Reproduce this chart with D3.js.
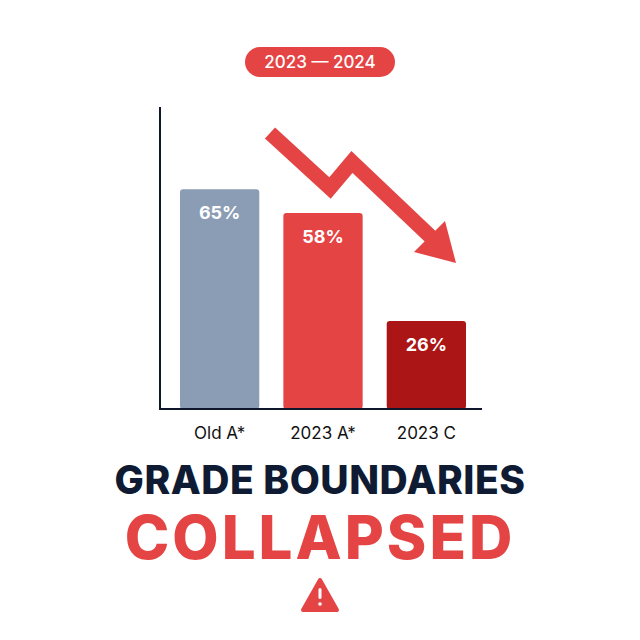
<!DOCTYPE html>
<html><head><meta charset="utf-8">
<script src="https://cdn.jsdelivr.net/npm/d3@7"></script>
<style>body{margin:0;background:#fff}</style></head>
<body><svg id="chart" width="640" height="640"></svg>
<script>
const categories = ['Old A*', '2023 A*', '2023 C'];
const values = [65, 58, 26];
const colors = ['#8a9db5', '#e54444', '#ab1515'];

const svg = d3.select('#chart');
const font = 'Inter, "Noto Sans", sans-serif';

// badge
svg.append('rect').attr('x', 245).attr('y', 47).attr('width', 150).attr('height', 30)
    .attr('rx', 15).attr('fill', '#e54444');
svg.append('text').attr('x', 320).attr('y', 68).attr('text-anchor', 'middle')
    .attr('fill', '#fff').attr('font-family', font).attr('font-size', 17).attr('font-weight', 500)
    .text('2023 — 2024');

const x = d3.scaleBand().domain(categories).range([180, 466]).paddingInner(0.233).paddingOuter(0);
const y = d3.scaleLinear().domain([0, 100]).range([409, 71]);

// bars
svg.selectAll('.bar').data(categories).enter().append('rect')
    .attr('x', d => x(d)).attr('width', x.bandwidth())
    .attr('y', (d, i) => y(values[i])).attr('height', (d, i) => y(0) - y(values[i]))
    .attr('rx', 3).attr('fill', (d, i) => colors[i]);

svg.selectAll('.val').data(categories).enter().append('text')
    .attr('x', d => x(d) + x.bandwidth() / 2).attr('y', (d, i) => y(values[i]) + 30)
    .attr('text-anchor', 'middle').attr('fill', '#fff').attr('font-family', font)
    .attr('font-size', 18).attr('font-weight', 700).text((d, i) => values[i] + '%');

// axes lines
svg.append('line').attr('x1', 160).attr('x2', 160).attr('y1', 107).attr('y2', 409)
    .attr('stroke', '#0f172a').attr('stroke-width', 2);
svg.append('line').attr('x1', 159).attr('x2', 482).attr('y1', 409).attr('y2', 409)
    .attr('stroke', '#0f172a').attr('stroke-width', 2);

svg.selectAll('.cat').data(categories).enter().append('text')
    .attr('x', d => x(d) + x.bandwidth() / 2).attr('y', 439)
    .attr('text-anchor', 'middle').attr('fill', '#111').attr('font-family', font)
    .attr('font-size', 17).text(d => d);

// trend arrow
svg.append('path').attr('d', 'M270,133 L330,188 L352,162 L432,238')
    .attr('fill', 'none').attr('stroke', '#e54444').attr('stroke-width', 15).attr('stroke-linejoin', 'miter');
svg.append('path').attr('d', 'M414,252 L456,263 L445,221 Z').attr('fill', '#e54444');

// titles
svg.append('text').attr('x', 320).attr('y', 494).attr('text-anchor', 'middle')
    .attr('fill', '#0f1a33').attr('font-family', font).attr('font-size', 39).attr('font-weight', 800)
    .attr('letter-spacing', 0.5).text('GRADE BOUNDARIES');
svg.append('text').attr('x', 320).attr('y', 559).attr('text-anchor', 'middle')
    .attr('fill', '#e54444').attr('font-family', font).attr('font-size', 60).attr('font-weight', 800)
    .attr('letter-spacing', 3).text('COLLAPSED');

// warning icon
svg.append('path').attr('d', 'M320,580 L337,610 L303,610 Z').attr('fill', '#e54444')
    .attr('stroke', '#e54444').attr('stroke-width', 4).attr('stroke-linejoin', 'round');
svg.append('rect').attr('x', 318.5).attr('y', 588).attr('width', 3).attr('height', 11).attr('rx', 1.5).attr('fill', '#fff');
svg.append('circle').attr('cx', 320).attr('cy', 604).attr('r', 1.8).attr('fill', '#fff');
</script></body></html>
